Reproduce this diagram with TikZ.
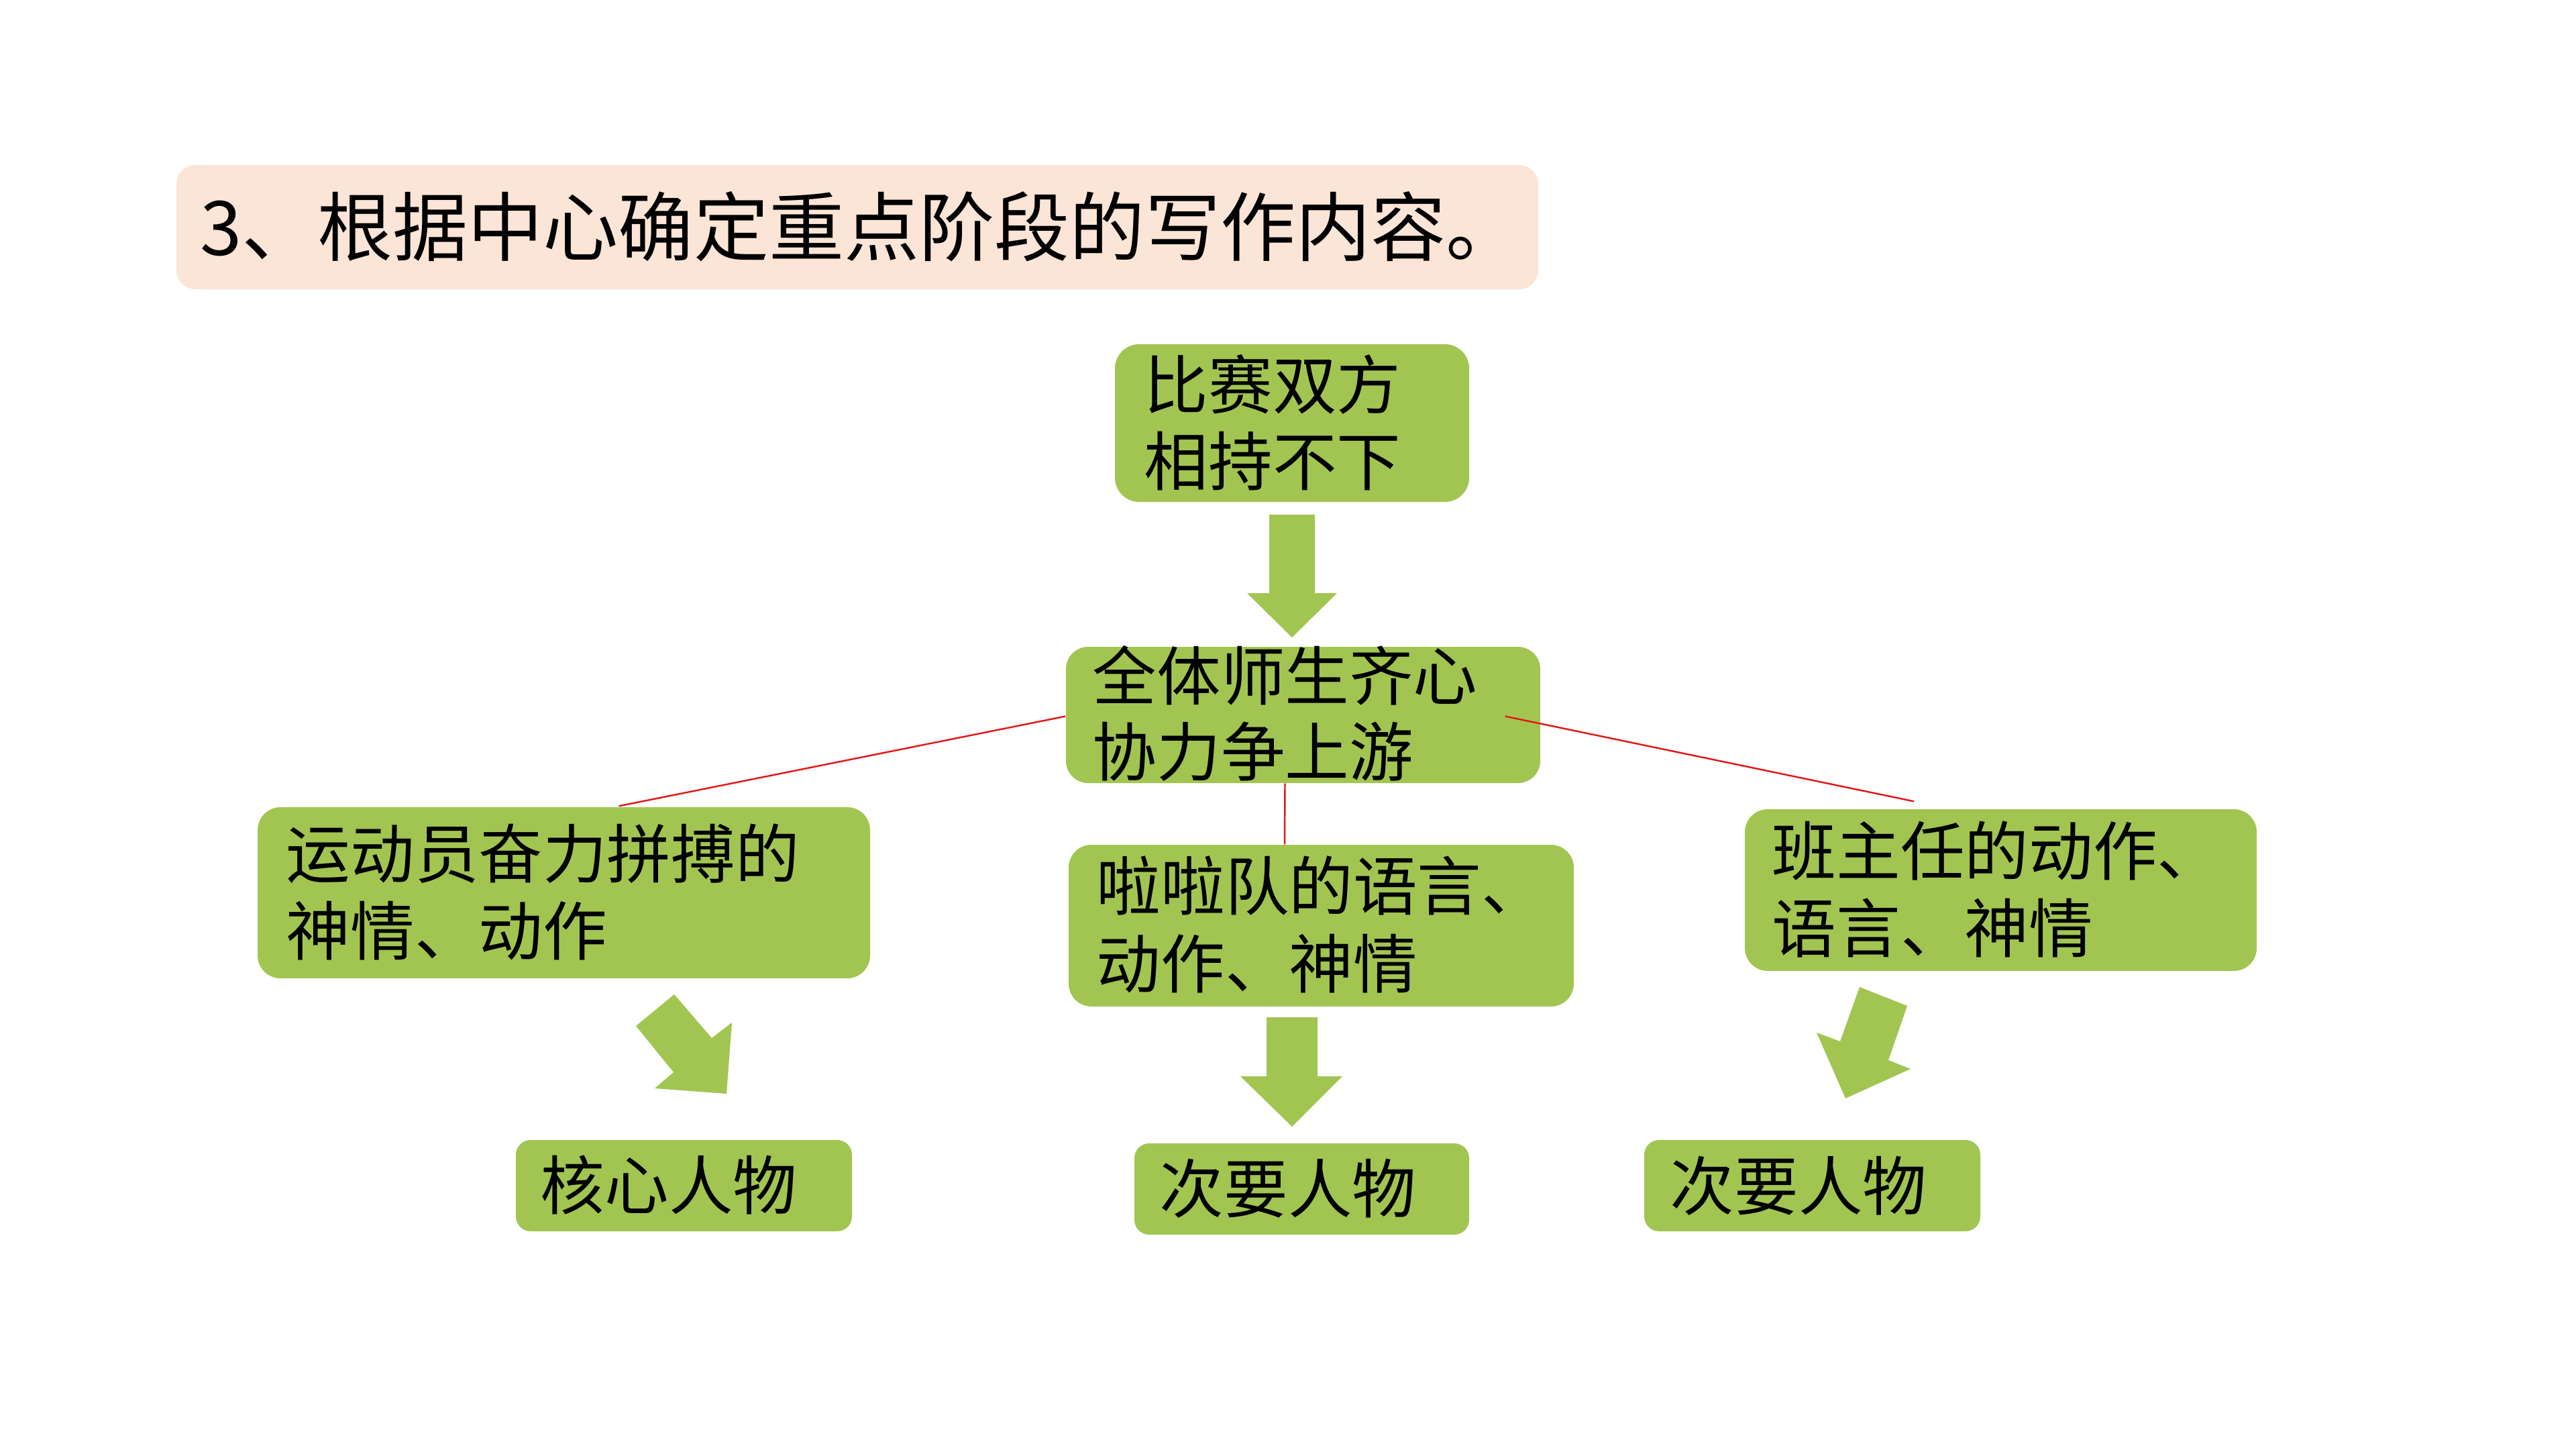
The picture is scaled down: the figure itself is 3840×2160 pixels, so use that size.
\documentclass[tikz,border=0pt]{standalone}
\usepackage{fontspec}
\newfontfamily\cjk{Noto Sans CJK SC}
\usetikzlibrary{calc,fit}
\definecolor{boxgreen}{RGB}{162,197,82}
\definecolor{titlefill}{RGB}{251,229,214}
\definecolor{linkred}{RGB}{226,24,24}
\begin{document}
\begin{tikzpicture}[x=0.01cm,y=-0.01cm,
  gbox/.style={fill=boxgreen, draw=none, inner sep=0pt},
  ttlbox/.style={fill=titlefill, draw=none, inner sep=0pt, rounded corners=0.28cm},
  lbl/.style={anchor=base west, inner sep=0pt, text=black, font=\cjk\fontsize{27.2pt}{32pt}\selectfont},
  tlbl/.style={anchor=base west, inner sep=0pt, text=black, font=\cjk\fontsize{31.9pt}{36pt}\selectfont},
  link/.style={draw=linkred, line width=0.7pt},
  blockarrow/.style={fill=boxgreen, draw=none}]
\fill[white] (0,0) rectangle (3840,2160);
\useasboundingbox (0,0) rectangle (3840,2160);

% title
\node[ttlbox, fit={(263,246) (2293,431)}] (title) {};
\node[tlbl] (titletext) at (298,380) {3、根据中心确定重点阶段的写作内容。};

% boxes
\node[gbox, rounded corners=0.36cm, fit={(1662,513) (2190,748)}] (tie) {};
\node[gbox, rounded corners=0.33cm, fit={(1589,964) (2296,1167)}] (unite) {};
\node[gbox, rounded corners=0.34cm, fit={(384,1203) (1297,1458)}] (athlete) {};
\node[gbox, rounded corners=0.34cm, fit={(1593,1259) (2346,1500)}] (cheer) {};
\node[gbox, rounded corners=0.34cm, fit={(2601,1206) (3364,1447)}] (teacher) {};
\node[gbox, rounded corners=0.22cm, fit={(769,1699) (1270,1835)}] (core) {};
\node[gbox, rounded corners=0.22cm, fit={(1691,1704) (2190,1840)}] (minorA) {};
\node[gbox, rounded corners=0.22cm, fit={(2451,1699) (2952,1835)}] (minorB) {};

% texts
\node[lbl] (tie1) at (1705,609) {比赛双方};
\node[lbl] (tie2) at (1705,723) {相持不下};
\node[lbl] (unite1) at (1628,1043) {全体师生齐心};
\node[lbl] (unite2) at (1628,1156) {协力争上游};
\node[lbl] (ath1) at (426,1308) {运动员奋力拼搏的};
\node[lbl] (ath2) at (426,1423) {神情、动作};
\node[lbl] (ch1) at (1634,1356) {啦啦队的语言、};
\node[lbl] (ch2) at (1634,1472) {动作、神情};
\node[lbl] (te1) at (2641,1304) {班主任的动作、};
\node[lbl] (te2) at (2641,1419) {语言、神情};
\node[lbl] (coretext) at (805,1802) {核心人物};
\node[lbl] (minorAtext) at (1728,1807) {次要人物};
\node[lbl] (minorBtext) at (2489,1803) {次要人物};

% red connectors
\draw[link] ($(unite.west)+(0,2)$) -- ($(athlete.north)+(82,-1)$);
\draw[link] ($(unite.south)+(-27,0)$) -- ($(cheer.north)+(-54.5,0)$);
\draw[link] ($(unite.east)+(-53,2)$) -- ($(teacher.north)+(-129.5,-11)$);

% block arrows
\fill[blockarrow] (1892,767) -- (1960,767) -- (1960,884) -- (1993,884) -- (1926,950) -- (1859,884) -- (1892,884) -- cycle;
\fill[blockarrow] (1888,1516) -- (1964,1516) -- (1964,1604) -- (2001,1604) -- (1926,1679) -- (1849,1604) -- (1888,1604) -- cycle;
\fill[blockarrow] (1005,1482) -- (1061,1547) -- (1091,1524) -- (1083,1630) -- (976,1622) -- (1004,1598) -- (948,1529) -- cycle;
\fill[blockarrow] (2772,1471) -- (2843,1499) -- (2815,1580) -- (2848,1593) -- (2751,1637) -- (2708,1539) -- (2743,1552) -- cycle;
\end{tikzpicture}
\end{document}
